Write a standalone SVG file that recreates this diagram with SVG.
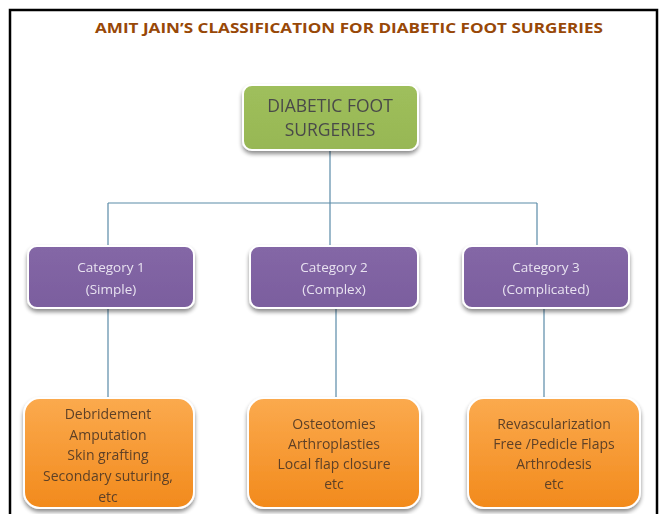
<svg xmlns="http://www.w3.org/2000/svg" width="660" height="514" viewBox="0 0 660 514">
<defs>
<filter id="sh" x="-10%" y="-10%" width="120%" height="130%">
<feGaussianBlur in="SourceAlpha" stdDeviation="2"/>
<feOffset dx="0" dy="3" result="b"/>
<feComponentTransfer><feFuncA type="linear" slope="0.45"/></feComponentTransfer>
<feMerge><feMergeNode/><feMergeNode in="SourceGraphic"/></feMerge>
</filter>
<linearGradient id="og" x1="0" y1="0" x2="0" y2="1">
<stop offset="0" stop-color="#FBAA4E"/>
<stop offset="1" stop-color="#F28A1C"/>
</linearGradient>
<linearGradient id="pg" x1="0" y1="0" x2="0" y2="1">
<stop offset="0" stop-color="#8467A6"/>
<stop offset="1" stop-color="#7B5E9E"/>
</linearGradient>
<linearGradient id="gg" x1="0" y1="0" x2="0" y2="1">
<stop offset="0" stop-color="#9FBF5C"/>
<stop offset="1" stop-color="#97B754"/>
</linearGradient>
</defs>
<style>
.t{font-family:"Open Sans","Liberation Sans",sans-serif;text-anchor:middle}
.cat{font-size:13.5px;fill:#E8E2F0}
.leaf{font-size:14px;fill:#5E4128}
.root{font-size:17.5px;fill:#4A4A4A}
.ln{stroke:#5B8BA8;stroke-width:1.2;fill:none}
.box{stroke:#FFFFFF;stroke-width:2}
</style>
<rect x="0" y="0" width="660" height="514" fill="#FFFFFF"/>
<rect x="10" y="10" width="647" height="530" fill="none" stroke="#000" stroke-width="2.5"/>
<text x="349" y="33" font-family="'Open Sans','Liberation Sans',sans-serif" font-weight="bold" font-size="15" fill="#984807" text-anchor="middle" textLength="508" lengthAdjust="spacingAndGlyphs">AMIT JAIN’S CLASSIFICATION FOR DIABETIC FOOT SURGERIES</text>
<g id="connectors">
<path class="ln" d="M330 150 V203 M108 203 H537 M108 203 V246 M330 203 V246 M537 203 V246"/>
<path class="ln" d="M108 308 V398 M336 308 V398 M544 308 V398"/>
</g>
<g id="root" filter="url(#sh)">
<rect class="box" x="243" y="85" width="175" height="65" rx="9" fill="url(#gg)"/>
<text class="t root" x="330" y="112">DIABETIC FOOT</text>
<text class="t root" x="330" y="136">SURGERIES</text>
</g>
<g id="cat1" filter="url(#sh)">
<rect class="box" x="28" y="246" width="166" height="62" rx="9" fill="url(#pg)"/>
<text class="t cat" x="111" y="272">Category 1</text>
<text class="t cat" x="111" y="294">(Simple)</text>
</g>
<g id="cat2" filter="url(#sh)">
<rect class="box" x="250" y="246" width="168" height="62" rx="9" fill="url(#pg)"/>
<text class="t cat" x="334" y="272">Category 2</text>
<text class="t cat" x="334" y="294">(Complex)</text>
</g>
<g id="cat3" filter="url(#sh)">
<rect class="box" x="463" y="246" width="166" height="62" rx="9" fill="url(#pg)"/>
<text class="t cat" x="546" y="272">Category 3</text>
<text class="t cat" x="546" y="294">(Complicated)</text>
</g>
<g id="leaf1" filter="url(#sh)">
<rect class="box" x="24" y="398" width="170" height="110" rx="16" fill="url(#og)"/>
<text class="t leaf" x="108" y="419">Debridement</text>
<text class="t leaf" x="108" y="440">Amputation</text>
<text class="t leaf" x="108" y="460">Skin grafting</text>
<text class="t leaf" x="108" y="481">Secondary suturing,</text>
<text class="t leaf" x="108" y="502">etc</text>
</g>
<g id="leaf2" filter="url(#sh)">
<rect class="box" x="248" y="398" width="172" height="110" rx="16" fill="url(#og)"/>
<text class="t leaf" x="334" y="429">Osteotomies</text>
<text class="t leaf" x="334" y="449">Arthroplasties</text>
<text class="t leaf" x="334" y="469">Local flap closure</text>
<text class="t leaf" x="334" y="489">etc</text>
</g>
<g id="leaf3" filter="url(#sh)">
<rect class="box" x="468" y="398" width="172" height="110" rx="16" fill="url(#og)"/>
<text class="t leaf" x="554" y="429">Revascularization</text>
<text class="t leaf" x="554" y="449">Free /Pedicle Flaps</text>
<text class="t leaf" x="554" y="469">Arthrodesis</text>
<text class="t leaf" x="554" y="489">etc</text>
</g>
</svg>
